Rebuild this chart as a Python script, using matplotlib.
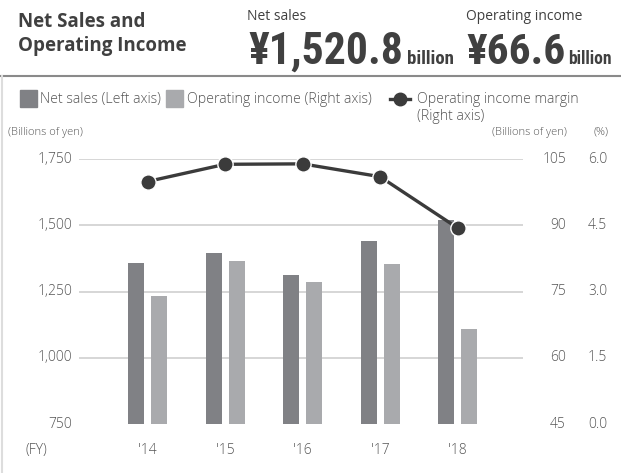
import matplotlib
matplotlib.use("Agg")
import matplotlib.pyplot as plt
import matplotlib.transforms as mtransforms
from matplotlib.lines import Line2D
import numpy as np

years = ["'14", "'15", "'16", "'17", "'18"]
net_sales = [1357, 1395, 1312, 1441, 1520.8]
op_income = [74.0, 81.9, 77.1, 81.2, 66.6]
op_margin = [5.49, 5.88, 5.89, 5.60, 4.44]

left_ticks = [750, 1000, 1250, 1500, 1750]
left_labels = ["750", "1,000", "1,250", "1,500", "1,750"]
right_ticks = [45, 60, 75, 90, 105]
pct_ticks = [0.0, 1.5, 3.0, 4.5, 6.0]

C_NET = "#808185"
C_OI = "#a9aaad"
C_LINE = "#3b3b3b"
C_TXT = "#555555"
C_HEAD = "#404040"
C_GRID = "#cfcfcf"

FONT = ["Open Sans", "DejaVu Sans"]
COND = ["Roboto Condensed", "Open Sans Condensed", "DejaVu Sans"]
W, H = 621, 473
fig = plt.figure(figsize=(W / 100, H / 100), dpi=100)


def fx(px):
    return px / W


def fy(py):
    return 1 - py / H


ax = fig.add_axes([fx(79), fy(424), fx(523 - 79), (424 - 159) / H])
ax2 = ax.twinx()
ax3 = ax.twinx()

x = np.arange(len(years))
unit = 77.5
bw = 16 / unit
off = 11.5 / unit
ax.bar(x - off, net_sales, width=bw, bottom=0, color=C_NET, zorder=2)
ax2.bar(x + off, op_income, width=bw, color=C_OI, zorder=2)
ax3.plot(x, op_margin, color=C_LINE, lw=2.4, marker="o", ms=11,
         mfc=C_LINE, mec="white", mew=1.0, zorder=5, clip_on=False)

xl = (-(147.5 - 79) / unit, 4 + (523 - 457.5) / unit)
for a in (ax, ax2, ax3):
    a.set_xlim(*xl)
    for s in a.spines.values():
        s.set_visible(False)
    a.tick_params(left=False, right=False, bottom=False, labelleft=False,
                  labelright=False, labelbottom=False)
    a.patch.set_visible(False)
ax.set_ylim(750, 1750)
ax2.set_ylim(45, 105)
ax3.set_ylim(0, 6)
for t in left_ticks[1:]:
    ax.axhline(t, color=C_GRID, lw=1.2, zorder=1)
ax.set_zorder(1)
ax2.set_zorder(2)
ax3.set_zorder(3)

tk = dict(fontsize=10, color=C_TXT, family=FONT, fontweight="light", va="center")
trL = mtransforms.blended_transform_factory(fig.transFigure, ax.transData)
for t, lab in zip(left_ticks, left_labels):
    ax.text(fx(72), t, lab, ha="right", transform=trL, **tk)
trR = mtransforms.blended_transform_factory(fig.transFigure, ax2.transData)
for t in right_ticks:
    ax2.text(fx(566), t, f"{t}", ha="right", transform=trR, **tk)
trP = mtransforms.blended_transform_factory(fig.transFigure, ax3.transData)
for t in pct_ticks:
    ax3.text(fx(588), t, f"{t:.1f}", ha="left", transform=trP, **tk)

trX = mtransforms.blended_transform_factory(ax.transData, fig.transFigure)
for xi, lab in zip(x, years):
    ax.text(xi, fy(450), lab, ha="center", transform=trX, **tk)
fig.text(fx(25), fy(450), "(FY)", ha="left", **tk)

sm = dict(fontsize=8, color=C_TXT, family=FONT, fontweight="light", va="center")
fig.text(fx(8), fy(132), "(Billions of yen)", ha="left", **sm)
fig.text(fx(567), fy(132), "(Billions of yen)", ha="right", **sm)
fig.text(fx(608), fy(132), "(%)", ha="right", **sm)

# legend
lg = dict(fontsize=10.2, color=C_TXT, family=FONT, fontweight="light", va="center")
fig.patches.append(plt.Rectangle((fx(20), fy(107)), fx(17), 17 / H, color=C_NET,
                                 transform=fig.transFigure))
fig.text(fx(40), fy(99), "Net sales (Left axis)", ha="left", **lg)
fig.patches.append(plt.Rectangle((fx(166), fy(107)), fx(17), 17 / H, color=C_OI,
                                 transform=fig.transFigure))
fig.text(fx(187), fy(99), "Operating income (Right axis)", ha="left", **lg)
fig.lines.append(Line2D([fx(390), fx(410)], [fy(99), fy(99)], color=C_LINE, lw=2.4,
                        transform=fig.transFigure))
fig.lines.append(Line2D([fx(400)], [fy(99)], color=C_LINE, marker="o", ms=9,
                        transform=fig.transFigure))
fig.text(fx(417), fy(99), "Operating income margin", ha="left", **lg)
fig.text(fx(417), fy(117), "(Right axis)", ha="left", **lg)

# header
hd = dict(ha="left", va="center", fontsize=13.5, fontweight="bold", color=C_HEAD,
          family=FONT)
fig.text(fx(18), fy(22), "Net Sales and", **hd)
fig.text(fx(18), fy(46), "Operating Income", **hd)
fig.text(fx(247), fy(17), "Net sales", ha="left", va="center", fontsize=10,
         color=C_HEAD, family=FONT)
fig.text(fx(466), fy(17), "Operating income", ha="left", va="center", fontsize=10,
         color=C_HEAD, family=FONT)

renderer = fig.canvas.get_renderer()


def fitted(xpx, ypx, s, target_w, base_size, weight="bold"):
    t = fig.text(fx(xpx), fy(ypx), s, ha="left", va="baseline",
                 fontsize=base_size, fontweight=weight, color=C_HEAD, family=COND)
    w = t.get_window_extent(renderer).width
    t.set_fontsize(base_size * target_w / w)
    return t


fitted(248, 64, "¥1,520.8", 155, 30)
fitted(407, 64, "billion", 47, 12)
fitted(466, 64, "¥66.6", 99, 30)
fitted(568, 64, "billion", 44, 12)

fig.lines.append(Line2D([0, 1], [fy(76), fy(76)], color="#8a8a8a", lw=1.5,
                        transform=fig.transFigure))
fig.lines.append(Line2D([fx(1.5), fx(1.5)], [fy(76), 0], color="#dddddd", lw=1.5,
                        transform=fig.transFigure))

fig.savefig("out.png", dpi=100, facecolor="white")
